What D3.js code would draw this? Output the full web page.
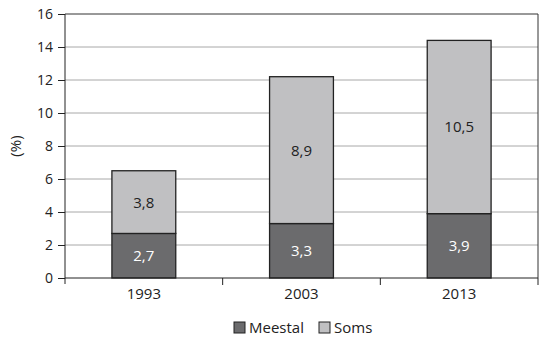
<!DOCTYPE html>
<html>
<head>
<meta charset="utf-8">
<script src="https://cdn.jsdelivr.net/npm/d3@7"></script>
<style>
  html, body { margin: 0; padding: 0; background: #fff; }
  svg text { font-family: "Open Sans", "DejaVu Sans", sans-serif; fill: #222; }
</style>
</head>
<body>
<svg id="chart" width="543" height="337"></svg>
<script>
// Share of respondents, by year (%)
const years = ["1993", "2003", "2013"];
const meestal = [2.7, 3.3, 3.9];
const soms = [3.8, 8.9, 10.5];
const seriesNames = ["Meestal", "Soms"];
const yTicks = [0, 2, 4, 6, 8, 10, 12, 14, 16];

const colors = { Meestal: "#6b6b6d", Soms: "#c0c0c2" };
const labelColors = { Meestal: "#ffffff", Soms: "#222222" };

const svg = d3.select("#chart");
const margin = { left: 65, right: 5, top: 14, bottom: 59 };
const W = 543, H = 337;
const x0 = margin.left, x1 = W - margin.right;
const y0 = H - margin.bottom, y1 = margin.top;

const x = d3.scaleBand().domain(years).range([x0, x1]).paddingInner(0).paddingOuter(0);
const y = d3.scaleLinear().domain([0, 16]).range([y0, y1]);

// horizontal gridlines
svg.append("g").selectAll("line").data(yTicks.filter(t => t > 0 && t < 16)).join("line")
  .attr("x1", x0).attr("x2", x1)
  .attr("y1", d => y(d)).attr("y2", d => y(d))
  .attr("stroke", "#a8a8a8").attr("stroke-width", 1);

// plot frame (top and right)
svg.append("line").attr("x1", x0).attr("x2", x1).attr("y1", y(16)).attr("y2", y(16))
  .attr("stroke", "#333").attr("stroke-width", 1);
svg.append("line").attr("x1", x1).attr("x2", x1).attr("y1", y(16)).attr("y2", y0)
  .attr("stroke", "#333").attr("stroke-width", 1);

// stacked data
const rows = years.map((yr, i) => ({ year: yr, Meestal: meestal[i], Soms: soms[i] }));
const stack = d3.stack().keys(seriesNames)(rows);

const barW = x.bandwidth() * 0.405;
const layers = svg.append("g").selectAll("g").data(stack).join("g");

layers.selectAll("rect").data(d => d.map(p => ({ key: d.key, p }))).join("rect")
  .attr("x", d => x(d.p.data.year) + (x.bandwidth() - barW) / 2)
  .attr("width", barW)
  .attr("y", d => y(d.p[1]))
  .attr("height", d => y(d.p[0]) - y(d.p[1]))
  .attr("fill", d => colors[d.key])
  .attr("stroke", "#222").attr("stroke-width", 1.3);

layers.selectAll("text").data(d => d.map(p => ({ key: d.key, p }))).join("text")
  .attr("x", d => x(d.p.data.year) + x.bandwidth() / 2)
  .attr("y", d => (y(d.p[0]) + y(d.p[1])) / 2)
  .attr("dy", "0.36em")
  .attr("text-anchor", "middle")
  .attr("font-size", 15)
  .style("fill", d => labelColors[d.key])
  .text(d => d3.format(".1f")(d.p[1] - d.p[0]).replace(".", ","));

// y axis
const yAxis = svg.append("g").attr("transform", `translate(${x0},0)`)
  .call(d3.axisLeft(y).tickValues(yTicks).tickSize(7).tickPadding(5).tickFormat(d3.format("d")));
yAxis.selectAll("path, line").attr("stroke", "#222");
yAxis.select(".domain").attr("d", `M0,${y1}V${y0 + 6}`);
yAxis.selectAll("text").attr("font-size", 14).style("fill", "#222");

// x axis
const xAxis = svg.append("g").attr("transform", `translate(0,${y0})`)
  .call(d3.axisBottom(x).tickSize(0).tickPadding(10));
xAxis.select(".domain").attr("stroke", "#222").attr("d", `M${x0},0H${x1}`);
xAxis.selectAll("text").attr("font-size", 15).style("fill", "#222");
// category separators below the baseline
xAxis.append("g").selectAll("line").data(years.slice(1).concat(["end"])).join("line")
  .attr("x1", (d, i) => i < years.length - 1 ? x(d) : x1)
  .attr("x2", (d, i) => i < years.length - 1 ? x(d) : x1)
  .attr("y1", 0).attr("y2", 7)
  .attr("stroke", "#222");

// y axis title
svg.append("text")
  .attr("transform", `translate(21,${(y0 + y1) / 2}) rotate(-90)`)
  .attr("text-anchor", "middle")
  .attr("font-size", 15)
  .text("(%)");

// legend
const legendItems = [
  { key: "Meestal", x: 234 },
  { key: "Soms", x: 319 }
];
const lg = svg.append("g").selectAll("g").data(legendItems).join("g")
  .attr("transform", d => `translate(${d.x},322)`);
lg.append("rect").attr("width", 11).attr("height", 11)
  .attr("fill", d => colors[d.key]).attr("stroke", "#222").attr("stroke-width", 1);
lg.append("text").attr("x", 15).attr("y", 5.5).attr("dy", "0.36em")
  .attr("font-size", 15).text(d => d.key);
</script>
</body>
</html>
